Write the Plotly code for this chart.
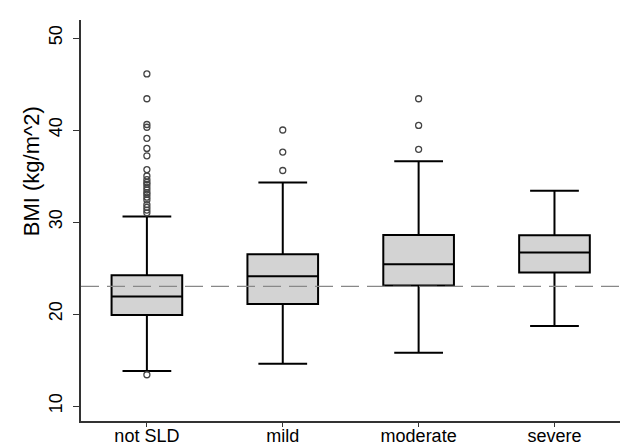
import plotly.graph_objects as go

categories = ["not SLD", "mild", "moderate", "severe"]
q1 = [19.9, 21.1, 23.1, 24.5]
median = [21.9, 24.1, 25.4, 26.7]
q3 = [24.2, 26.5, 28.6, 28.55]
lowerfence = [13.8, 14.6, 15.8, 18.7]
upperfence = [30.6, 34.3, 36.6, 33.4]

outlier_cat = (["not SLD"] * 23) + (["mild"] * 3) + (["moderate"] * 3)
outlier_val = [13.4, 46.1, 43.4, 40.6, 40.3, 39.1, 38.0, 37.2, 35.7, 35.0, 34.6, 34.3,
               34.1, 33.8, 33.5, 33.2, 33.0, 32.7, 32.4, 31.9, 31.6, 31.3, 31.0,
               40.0, 37.6, 35.6,
               43.4, 40.5, 37.9]

ref_line = 23
y_ticks = [10, 20, 30, 40, 50]
y_title = "BMI (kg/m^2)"

font = "Liberation Sans, Arial, sans-serif"

fig = go.Figure()
fig.add_trace(go.Box(
    x=categories, q1=q1, median=median, q3=q3,
    lowerfence=lowerfence, upperfence=upperfence,
    fillcolor="#d3d3d3", line=dict(color="black", width=2),
    width=0.52, whiskerwidth=0.69, boxpoints=False, showlegend=False,
    hoverinfo="skip",
))
fig.add_trace(go.Scatter(
    x=outlier_cat, y=outlier_val, mode="markers",
    marker=dict(symbol="circle-open", size=6, color="#444", line=dict(width=1.3)),
    showlegend=False, hoverinfo="skip",
))
fig.add_shape(type="line", xref="paper", x0=0, x1=1, y0=ref_line, y1=ref_line,
              line=dict(color="#888888", width=1.3, dash="18px,8px"), layer="above")

fig.add_annotation(
    text=y_title, textangle=-90, showarrow=False,
    xref="paper", yref="paper", x=-0.09, y=0.623,
    xanchor="center", yanchor="middle",
    font=dict(size=22, family=font, color="black"),
)

fig.update_layout(
    width=628, height=445,
    margin=dict(l=73, r=0, t=12, b=32),
    paper_bgcolor="white", plot_bgcolor="white",
    font=dict(family=font, size=18, color="black"),
)
fig.update_xaxes(
    type="category", range=[-0.485, 3.6],
    showline=True, linecolor="#333", linewidth=1.5,
    ticks="outside", ticklen=4, tickcolor="#333", tickwidth=1,
    showgrid=False, zeroline=False, tickfont=dict(size=18),
    ticklabelstandoff=-6,
)
fig.update_yaxes(
    range=[8.37, 51.96], tickvals=y_ticks, tickangle=-90,
    showline=True, linecolor="#333", linewidth=1.5,
    ticks="outside", ticklen=6, tickcolor="#333", tickwidth=1,
    showgrid=False, zeroline=False, tickfont=dict(size=18),
    ticklabelstandoff=4,
)

fig.write_html("out.html")
